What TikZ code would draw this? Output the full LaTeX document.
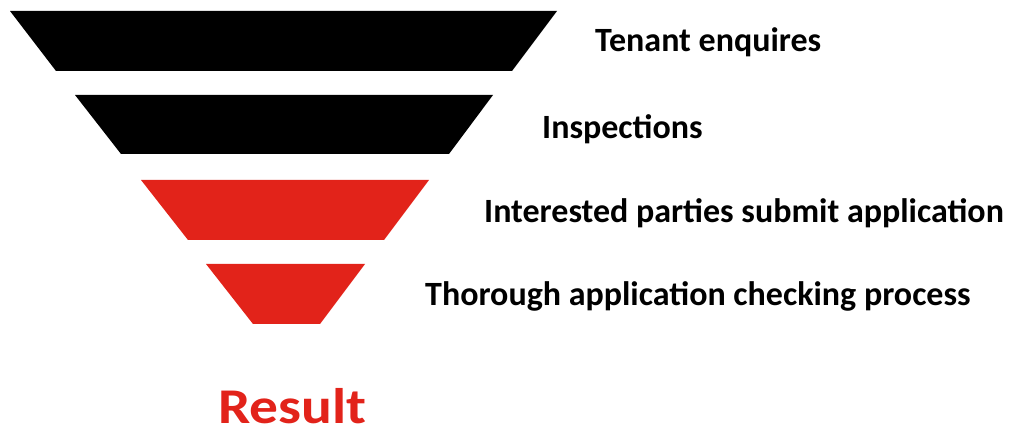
\documentclass[tikz,border=0pt]{standalone}
\usepackage{fontspec}
\setmainfont{Carlito}
\usetikzlibrary{positioning}
\definecolor{funnelred}{RGB}{226,35,26}
\tikzset{
  stage/.style={inner sep=0pt, anchor=base west, font=\bfseries\fontsize{34}{34}\selectfont},
  result/.style={inner sep=0pt, anchor=base west, text=funnelred, font=\bfseries\fontsize{50}{50}\selectfont}
}

\begin{document}
\begin{tikzpicture}[x=1pt,y=-1pt]
    \useasboundingbox (0,0) rectangle (1010,438);

    % Funnel layers
    \fill[black] (10,11) -- (557,11) -- (512,71) -- (56,71) -- cycle; % top
    \fill[black] (75,95) -- (493,95) -- (449,154) -- (121,154) -- cycle;
    \fill[funnelred] (141,180) -- (429,180) -- (384,240) -- (188,240) -- cycle;
    \fill[funnelred] (206,264) -- (365,264) -- (320,324) -- (253,324) -- cycle; % bottom

    % Labels
    \node[stage] (enquires) at (595,52) {Tenant enquires};
    \node[stage] (inspections) at (542,139) {Inspections};
    \node[stage] (submit) at (484,223) {Interested parties submit application};
    \node[stage] (checking) at (425,306) {Thorough application checking process};

    % Outcome
    \node[result, xscale=1.15, transform shape] (outcome) at (218,424) {Result};
\end{tikzpicture}
\end{document}
